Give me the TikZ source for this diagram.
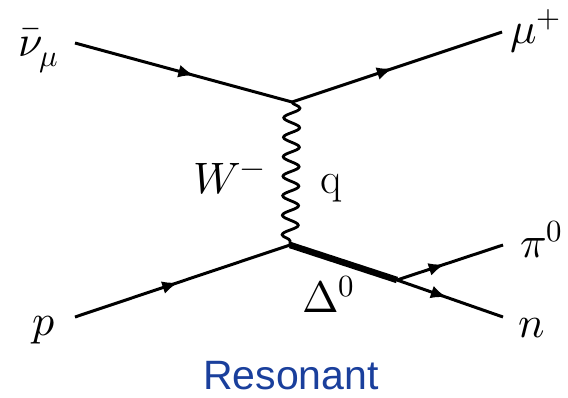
\documentclass[tikz,border=0pt]{standalone}
\usepackage{fontspec}
\usepackage{unicode-math}
\setmathfont{Latin Modern Math}
\usetikzlibrary{arrows.meta,decorations.markings,decorations.pathmorphing}
\newfontfamily\capfont{Liberation Sans}
\definecolor{resBlue}{HTML}{1A3F9C}
\tikzset{
  fd fermion/.style={draw=black, line width=3pt, postaction={decorate},
    decoration={markings, mark=at position #1 with {\arrow{Latex[length=16pt,width=13pt]}}}},
  fd fermion/.default=0.5,
  fd boson/.style={draw=black, line width=2.8pt, decorate,
    decoration={snake, amplitude=8pt, segment length=19.5pt}},
  fd resonance/.style={draw=black, line width=6.5pt},
  fd label/.style={font=\fontsize{44}{50}\selectfont, inner sep=0pt, anchor=base west},
  fd caption/.style={font=\capfont\fontsize{41}{46}\selectfont, text=resBlue, inner sep=0pt, anchor=base},
}

\begin{document}
\begin{tikzpicture}[x=1pt,y=-1pt]
  \useasboundingbox (0,0) rectangle (568,397);
  % vertices and free ends
  \coordinate (vtop) at (292,102);
  \coordinate (vbot) at (290,245);
  \coordinate (vdecay) at (397,280);
  \coordinate (numu in) at (75,43);
  \coordinate (mu out) at (502,32);
  \coordinate (p in) at (75,317);
  \coordinate (pi out) at (503,245);
  \coordinate (n out) at (503,317);

  % labels
  \node[fd label] (numu) at (18,56) {$\bar{\nu}_\mu$};
  \node[fd label] (mu) at (510,43) {$\mu^+$};
  \node[fd label] (W) at (193,193) {$W^-$};
  \node[fd label] (q) at (320,193) {$\mathrm{q}$};
  \node[fd label] (p) at (32,335) {$p$};
  \node[fd label] (delta) at (302,312) {$\Delta^0$};
  \node[fd label] (pi) at (520,257) {$\pi^0$};
  \node[fd label] (n) at (518,337) {$n$};
  \node[fd caption] (resonant) at (291,389) {Resonant};

  % lines
  \draw[fd fermion=0.55] (numu in) -- (vtop);
  \draw[fd fermion=0.48] (vtop) -- (mu out);
  \draw[fd boson] (vtop) -- (vbot);
  \draw[fd fermion=0.48] (p in) -- (vbot);
  \draw[fd resonance] (vbot) -- (vdecay);
  \draw[fd fermion=0.45] (vdecay) -- (pi out);
  \draw[fd fermion=0.47] (vdecay) -- (n out);
\end{tikzpicture}
\end{document}
